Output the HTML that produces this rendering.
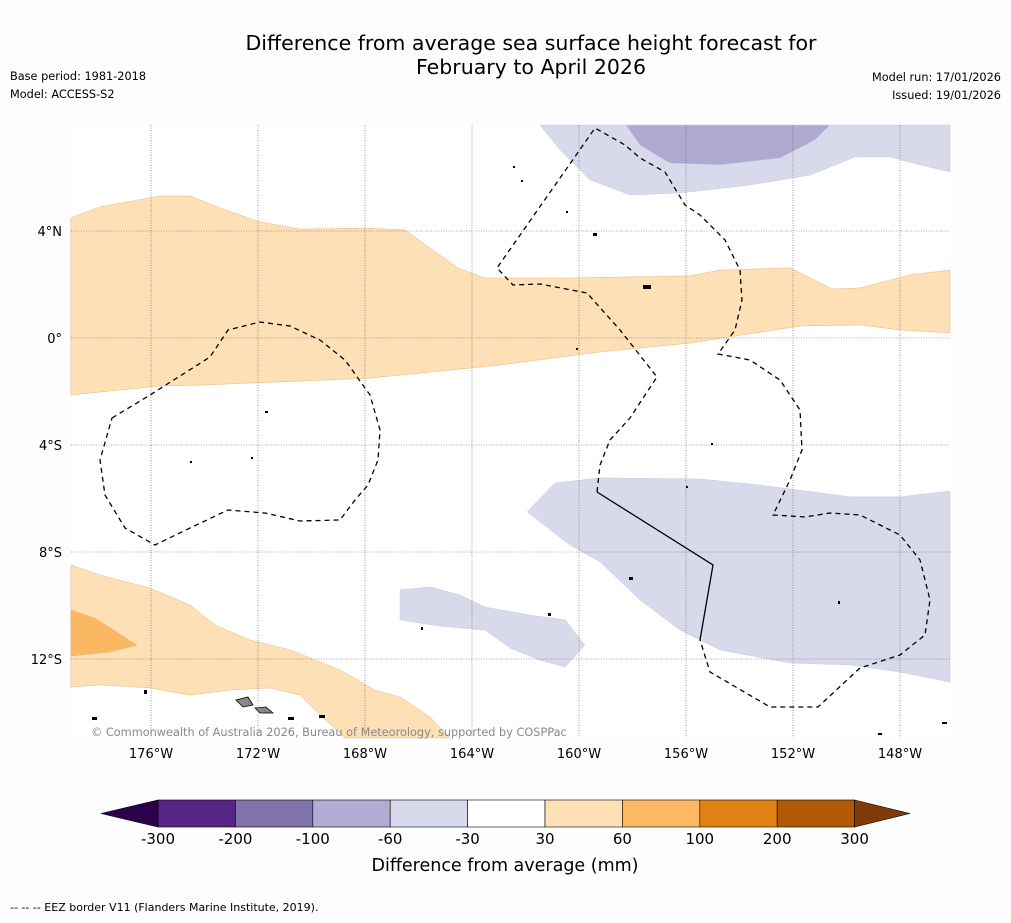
<!DOCTYPE html>
<html><head><meta charset="utf-8"><style>
html,body{margin:0;padding:0;background:#fdfdfd;}
body{width:1011px;height:919px;overflow:hidden;font-family:"DejaVu Sans",sans-serif;}
</style></head><body>
<svg id="chart" width="1011" height="919" xmlns="http://www.w3.org/2000/svg" font-family="DejaVu Sans, sans-serif">
<text x="531" y="50" font-size="20.5" text-anchor="middle" fill="#000">Difference from average sea surface height forecast for</text>
<text x="531" y="74" font-size="20.5" text-anchor="middle" fill="#000">February to April 2026</text>
<text x="10" y="80" font-size="11.3">Base period: 1981-2018</text>
<text x="10" y="98" font-size="11.3">Model: ACCESS-S2</text>
<text x="1001" y="81" font-size="11.3" text-anchor="end">Model run: 17/01/2026</text>
<text x="1001" y="99" font-size="11.3" text-anchor="end">Issued: 19/01/2026</text>
<rect x="71" y="125" width="879" height="613" fill="#ffffff"/>
<g id="fills"></g>
<g id="grid"></g>
<g id="eez" fill="none" stroke="#000" stroke-width="1.3">
<path stroke-dasharray="5,4" d="M112,418 L150,395 L210,357 L228,330 L260,322 L290,326 L320,340 L345,360 L370,395 L380,430 L378,460 L368,485 L355,500 L340,520 L300,521 L265,513 L228,510 L190,528 L155,545 L125,528 L105,495 L100,460 Z"/>
<path stroke-dasharray="5,4" d="M597,492 L600,465 L610,440 L630,418 L645,395 L657,377 L620,330 L587,293 L540,284 L513,285 L497,268 L595,128 L625,145 L640,158 L665,172 L685,205 L700,215 L725,240 L740,270 L742,300 L735,330 L718,354 L750,360 L780,380 L800,410 L802,450 L790,480 L773,515 L790,516 L805,517 L830,513 L860,515 L900,535 L920,560 L930,600 L925,635 L900,655 L860,668 L818,707 L770,707 L710,672 L700,640"/>
<path d="M597,492 L713,565 L700,640"/>
</g>
<g id="islands">
<path d="M236,700 L248,697 L253,705 L243,707 Z" fill="#888" stroke="#000" stroke-width="0.8"/>
<path d="M255,708 L266,707 L273,713 L260,713 Z" fill="#888" stroke="#000" stroke-width="0.8"/>
<g fill="#000"><rect x="593" y="233" width="4" height="3"/><rect x="643" y="285" width="8" height="4"/><rect x="265" y="411" width="3" height="2"/><rect x="190" y="461" width="2" height="2"/><rect x="251" y="457" width="2" height="2"/><rect x="144" y="690" width="3" height="4"/><rect x="92" y="717" width="5" height="3"/><rect x="288" y="717" width="6" height="3"/><rect x="319" y="715" width="6" height="3"/><rect x="629" y="577" width="4" height="3"/><rect x="548" y="613" width="3" height="3"/><rect x="421" y="627" width="2" height="3"/><rect x="711" y="443" width="2" height="2"/><rect x="686" y="486" width="2" height="2"/><rect x="838" y="601" width="2" height="3"/><rect x="878" y="733" width="4" height="2"/><rect x="942" y="722" width="5" height="2"/><rect x="513" y="166" width="2" height="2"/><rect x="521" y="180" width="2" height="2"/><rect x="566" y="211" width="2" height="2"/><rect x="576" y="348" width="2" height="2"/></g>
</g>
<text x="91" y="736" font-size="11.3" fill="#888">© Commonwealth of Australia 2026, Bureau of Meteorology, supported by COSPPac</text>
<g id="axes"></g>
<g id="colorbar"></g>
<text x="505" y="871" font-size="17.5" text-anchor="middle">Difference from average (mm)</text>
<text x="10" y="911" font-size="11">--  --  -- EEZ border V11 (Flanders Marine Institute, 2019).</text>
</svg>
<script>
const lonTicks=[-176,-172,-168,-164,-160,-156,-152,-148];
const latTicks=[4,0,-4,-8,-12];
const levels=[-300,-200,-100,-60,-30,30,60,100,200,300];
const levelColors=["#552586","#8073ac","#b2abd2","#d8daeb","#ffffff","#fee0b6","#fdb863","#e08214","#b35806"];
const lowColor="#2d004b", highColor="#7f3b08";
const orangeNorth=[[-179,4.49],[-177.91,4.9],[-175.66,5.31],[-174.54,5.31],[-173.42,4.86],[-171.93,4.34],[-170.43,4.07],[-168.0,4.11],[-166.5,4.04],[-165.57,3.36],[-164.52,2.62],[-163.51,2.24],[-160.71,2.24],[-155.85,2.32],[-154.73,2.54],[-152.11,2.62],[-150.54,1.83],[-149.5,1.87],[-147.63,2.36],[-146.13,2.54],[-146.13,0.19],[-148.0,0.3],[-149.5,0.49],[-151.74,0.45],[-155.85,-0.19],[-159.21,-0.52],[-162.95,-1.01],[-167.81,-1.5],[-170.43,-1.61],[-174.17,-1.76],[-175.66,-1.79],[-179,-2.13]];
const purpleTopLight=[[-161.46,7.96],[-160.71,7.03],[-159.59,5.91],[-158.09,5.35],[-156.22,5.42],[-153.61,5.72],[-151.36,6.09],[-149.68,6.77],[-148.37,6.77],[-147.25,6.47],[-146.13,6.21],[-146.13,7.96]];
const purpleTopMid=[[-158.24,7.96],[-157.72,7.21],[-156.6,6.54],[-154.73,6.47],[-152.49,6.73],[-151.18,7.4],[-150.62,7.96]];
const purpleSouth=[[-161.94,-6.5],[-160.9,-5.42],[-159.21,-5.23],[-155.48,-5.27],[-153.23,-5.5],[-149.87,-5.94],[-148.0,-5.94],[-146.13,-5.72],[-146.13,-12.86],[-148.0,-12.49],[-149.87,-12.22],[-152.11,-12.15],[-154.73,-11.66],[-156.22,-10.92],[-157.72,-9.79],[-159.21,-8.37],[-160.34,-7.74]];
const purpleSmall=[[-166.69,-9.42],[-165.57,-9.31],[-164.45,-9.61],[-163.51,-10.06],[-161.83,-10.36],[-160.52,-10.54],[-159.78,-11.48],[-160.52,-12.3],[-161.46,-12.04],[-162.58,-11.59],[-163.51,-10.92],[-165.2,-10.77],[-166.69,-10.54]];
const orangeSouth=[[-179,-8.49],[-177.91,-8.86],[-176.04,-9.35],[-174.54,-9.98],[-173.61,-10.73],[-172.3,-11.29],[-170.8,-11.66],[-168.93,-12.41],[-167.63,-13.16],[-166.69,-13.42],[-165.57,-14.17],[-164.82,-14.95],[-168.75,-14.95],[-169.68,-14.09],[-170.43,-13.35],[-171.55,-13.08],[-173.05,-13.16],[-174.54,-13.35],[-176.04,-13.08],[-177.91,-12.97],[-179,-13.05]];
const orangeSouthMid=[[-179,-10.17],[-178.09,-10.47],[-176.52,-11.48],[-177.53,-11.74],[-179,-11.89]];
const regions=[[orangeNorth,"#fde0b6",60],[purpleTopLight,"#d8daeb",-60],[purpleTopMid,"#b0a9cf",-100],[purpleSouth,"#d8daeb",-60],[purpleSmall,"#d8daeb",-60],[orangeSouth,"#fde0b6",60],[orangeSouthMid,"#fbb862",100]];

const NS="http://www.w3.org/2000/svg";
const xS=lon=>151+(lon+176)*26.75;
const yS=lat=>338-lat*26.75;
function mk(tag,attrs,parent){const e=document.createElementNS(NS,tag);for(const k in attrs)e.setAttribute(k,attrs[k]);parent.appendChild(e);return e;}

const fills=document.getElementById('fills');
regions.forEach((r,i)=>{
  const p=mk('polygon',{points:r[0].map(q=>xS(q[0]).toFixed(1)+','+yS(q[1]).toFixed(1)).join(' '),fill:r[1],stroke:r[2]>0?'#e8b880':'#c8c8dc','stroke-width':0.5},fills);
  
  
});
const grid=document.getElementById('grid'), axes=document.getElementById('axes');
lonTicks.forEach(l=>{
  const ln=mk('line',{x1:xS(l),x2:xS(l),y1:125,y2:738,stroke:'#555','stroke-width':0.6,'stroke-dasharray':'1,1.5'},grid);
  
  
  const t=mk('text',{x:xS(l),y:758,'font-size':13,'text-anchor':'middle'},axes);
  t.textContent=Math.abs(l)+'°W';
  
  
});
latTicks.forEach(l=>{
  const ln=mk('line',{x1:71,x2:950,y1:yS(l),y2:yS(l),stroke:'#555','stroke-width':0.6,'stroke-dasharray':'1,1.5'},grid);
  
  
  const t=mk('text',{x:62,y:yS(l)+5,'font-size':13,'text-anchor':'end'},axes);
  t.textContent=l===0?'0°':Math.abs(l)+'°'+(l>0?'N':'S');
  
  
});
const cb=document.getElementById('colorbar');
const cx0=158,cw=77.4,cy=800,ch=27;
levelColors.forEach((c,i)=>{
  const r=mk('rect',{x:cx0+i*cw,y:cy,width:cw,height:ch,fill:c,stroke:'#000','stroke-width':0.6},cb);
  
  
});
const lt=mk('polygon',{points:`101,${cy+ch/2} ${cx0},${cy} ${cx0},${cy+ch}`,fill:lowColor,stroke:'#000','stroke-width':0.6},cb);


const xe=cx0+levelColors.length*cw;
const ht=mk('polygon',{points:`${xe},${cy} 910,${cy+ch/2} ${xe},${cy+ch}`,fill:highColor,stroke:'#000','stroke-width':0.6},cb);


levels.forEach((v,i)=>{
  const t=mk('text',{x:cx0+i*cw,y:844,'font-size':15,'text-anchor':'middle'},cb);
  t.textContent=v;
  
  
});
</script>
</body></html>
